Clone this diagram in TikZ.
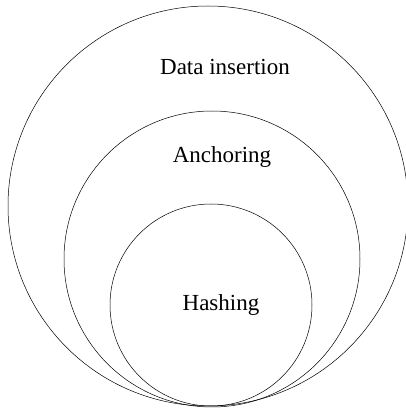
\documentclass[tikz,border=0pt]{standalone}
\usepackage{fontspec}
\setmainfont{Liberation Serif}
\usepackage{tikz}
\usetikzlibrary{positioning}

\begin{document}
\begin{tikzpicture}[
  x=1pt, y=1pt,
  every node/.style={font=\fontsize{23}{28}\selectfont},
  ring/.style={circle, draw, line width=0.5pt, inner sep=0pt},
  lbl/.style={inner sep=0pt, anchor=center},
]
  \useasboundingbox (0,0) rectangle (406,410);

  % nested layers, all touching at the bottom
  \node[ring, minimum size=400pt] (outer)  at (208,204) {};
  \node[ring, minimum size=296pt] (middle) at (212,151) {};
  \node[ring, minimum size=202pt] (inner)  at (211,105) {};

  \node[lbl] (datains) at (225,343) {Data insertion};
  \node[lbl] (anchor)  at (222,253) {Anchoring};
  \node[lbl] (hash)    at (221,105) {Hashing};

\end{tikzpicture}
\end{document}
